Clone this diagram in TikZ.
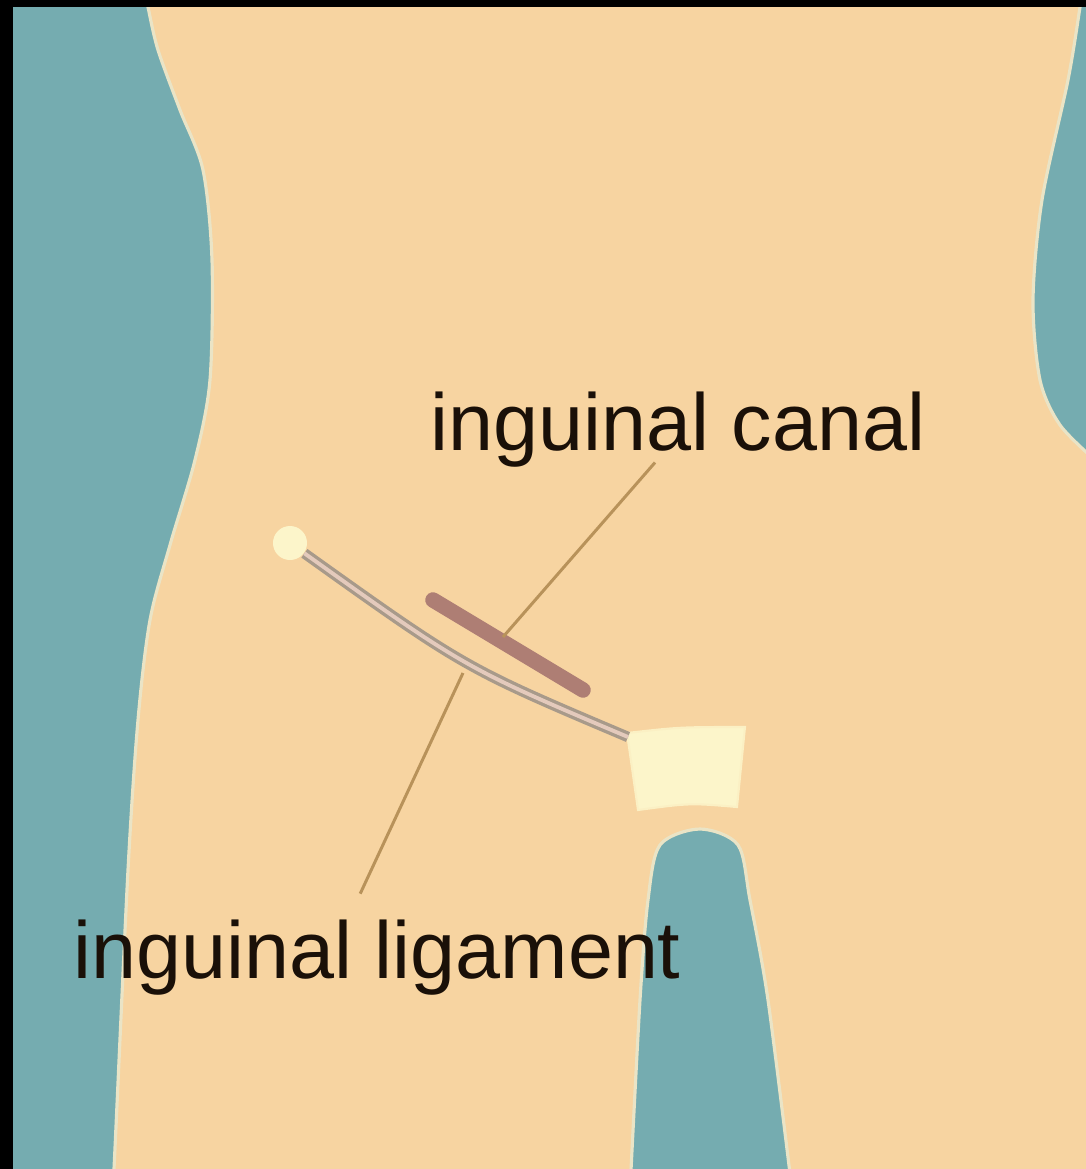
\documentclass[tikz,border=0pt]{standalone}
\usepackage{fontspec}
\setmainfont{Liberation Sans}
\definecolor{skin}{RGB}{247,212,161}
\definecolor{backdrop}{RGB}{117,172,176}
\definecolor{rim}{RGB}{234,228,198}
\definecolor{bone}{RGB}{252,245,202}
\definecolor{ligament}{RGB}{168,154,138}
\definecolor{ligamentcore}{RGB}{228,202,188}
\definecolor{canal}{RGB}{174,126,116}
\definecolor{leader}{RGB}{184,146,90}
\definecolor{labeltext}{RGB}{26,16,8}
\usepackage{tikz}
\tikzset{
    gap/.style={fill=backdrop, draw=rim, line width=0.9pt},
    bonepart/.style={fill=bone, draw=bone!85!skin, line width=0.6pt},
    asispoint/.style={circle, fill=bone, minimum size=0.34cm, inner sep=0pt},
    ligamentband/.style={draw=ligament, double=ligamentcore, line width=0.95pt, double distance=1.1pt},
    canalband/.style={draw=canal, line width=4.4pt, line cap=round},
    leaderline/.style={draw=leader, line width=0.85pt},
    tagtext/.style={font=\fontsize{23}{26}\selectfont, text=labeltext, inner sep=0pt, anchor=base west}
}

\begin{document}
\begin{tikzpicture}[x=0.01cm, y=-0.01cm]
    \useasboundingbox (0,0) rectangle (1086,1169);
    \clip (0,0) rectangle (1086,1169);

    % Body
    \fill[skin] (0,0) rectangle (1086,1169);

    % Gaps: left flank, right waist, between the legs
    \draw[gap] plot[smooth] coordinates {(145,-10) (148,7) (158,50) (180,110) (203,170) (212,260) (210,380) (195,460) (170,545) (150,620) (138,720) (128,870) (114,1169) (112,1190)} -- (-10,1190) -- (-10,-10) -- cycle;
    \draw[gap] plot[smooth] coordinates {(1082,-10) (1080,7) (1068,80) (1042,200) (1033,300) (1040,380) (1060,425) (1095,460)} -- (1100,-10) -- cycle;
    \draw[gap] plot[smooth] coordinates {(630,1190) (640,1000) (648,900) (660,845) (700,829) (738,845) (750,900) (768,1000) (792,1190)} -- cycle;

    % Pubic bone and hip point
    \draw[bonepart] (627,733) .. controls (680,727) .. (745,727) -- (737,807) .. controls (690,803) .. (638,810) -- cycle;
    \node[asispoint] (asis) at (290,543) {};
    \coordinate (pubis) at (628,737);

    % Ligament and canal
    \draw[ligamentband] (asis) .. controls (465,668) .. (pubis);
    \coordinate (canalhead) at (433,600);
    \coordinate (canaltail) at (583,690);
    \draw[canalband] (canalhead) -- (canaltail);

    % Labels
    \node[tagtext] (canallabel) at (430,450) {inguinal canal};
    \node[tagtext] (liglabel) at (73,978) {inguinal ligament};

    \coordinate (canalpt) at (503,637);
    \coordinate (ligpt) at (463,673);
    \draw[leaderline] (canalpt) -- ([xshift=-0.23cm, yshift=0.05cm]canallabel.south);
    \draw[leaderline] (ligpt) -- ([xshift=-0.17cm, yshift=0.25cm]liglabel.north);

    % Frame strips
    \fill[black] (0,0) rectangle (1086,7);
    \fill[black] (0,0) rectangle (13,1169);
\end{tikzpicture}
\end{document}
